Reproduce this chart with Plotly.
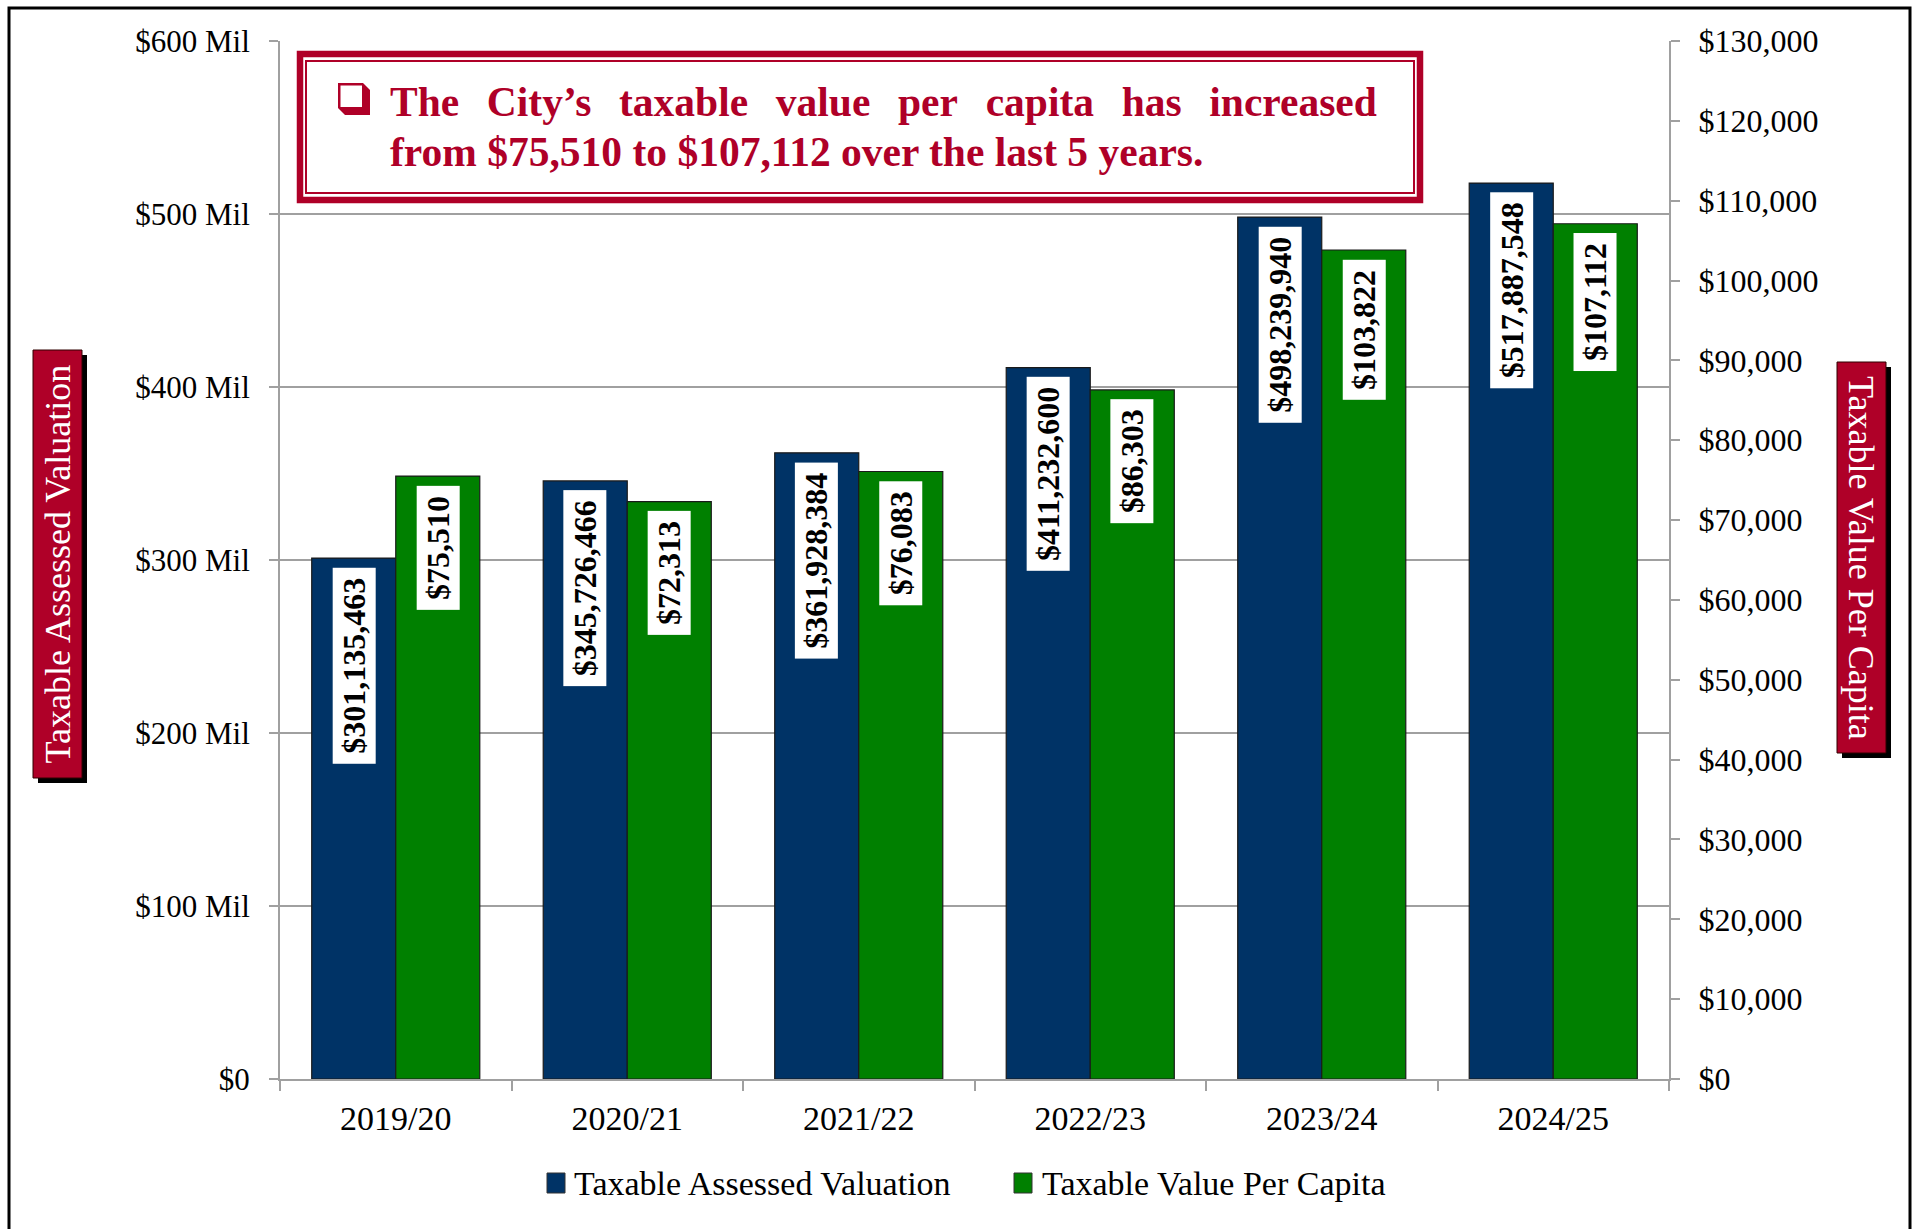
import plotly.graph_objects as go

# ---------------- data ----------------
years = ["2019/20", "2020/21", "2021/22", "2022/23", "2023/24", "2024/25"]
assessed_valuation = [301135463, 345726466, 361928384, 411232600, 498239940, 517887548]
value_per_capita = [75510, 72313, 76083, 86303, 103822, 107112]
series_names = ["Taxable Assessed Valuation", "Taxable Value Per Capita"]
left_tick_vals = [0, 100e6, 200e6, 300e6, 400e6, 500e6, 600e6]
left_tick_text = ["$0", "$100 Mil", "$200 Mil", "$300 Mil", "$400 Mil", "$500 Mil", "$600 Mil"]
headline = ["The City\u2019s taxable value per capita has increased",
            "from $75,510 to $107,112 over the last 5 years."]

# ---------------- styles ----------------
W, H = 1915, 1229
L, R, T, B = 280, 246, 41, 150
PW, PH = W - L - R, H - T - B
BLUE = "#003366"
GREEN = "#008000"
RED = "#AF0028"
GRID = "#A0A0A0"
SERIF = "Liberation Serif"
BAR_W = 0.363


def px(x):
    return (x - L) / PW


def py(y):
    return (H - B - y) / PH


fig = go.Figure()
fig.add_trace(go.Bar(x=years, y=assessed_valuation, name=series_names[0],
                     marker=dict(color=BLUE, line=dict(color="#1a1a1a", width=1.2)),
                     width=BAR_W, offset=-BAR_W, yaxis="y", showlegend=False))
fig.add_trace(go.Bar(x=years, y=value_per_capita, name=series_names[1],
                     marker=dict(color=GREEN, line=dict(color="#1a1a1a", width=1.2)),
                     width=BAR_W, offset=0, yaxis="y2", showlegend=False))

annotations = []
thin = "\u2009"
for i, v in enumerate(assessed_valuation):
    annotations.append(dict(x=i - BAR_W / 2, y=v, xref="x", yref="y",
                            text=thin + "${:,}".format(v) + thin, textangle=-90,
                            yanchor="top", xanchor="center", yshift=-9, showarrow=False,
                            bgcolor="white", borderpad=3,
                            font=dict(family=SERIF, size=32, color="black", weight="bold")))
for i, v in enumerate(value_per_capita):
    annotations.append(dict(x=i + BAR_W / 2, y=v, xref="x", yref="y2",
                            text=thin + "${:,}".format(v) + thin, textangle=-90,
                            yanchor="top", xanchor="center", yshift=-9, showarrow=False,
                            bgcolor="white", borderpad=3,
                            font=dict(family=SERIF, size=32, color="black", weight="bold")))

shapes = []
# outer frame
shapes.append(dict(type="rect", xref="paper", yref="paper", x0=px(9), x1=px(1910), y0=py(8), y1=py(1240),
                   line=dict(color="black", width=3), fillcolor="rgba(0,0,0,0)", layer="below"))

# headline box
shapes.append(dict(type="rect", xref="paper", yref="paper", x0=px(300), x1=px(1420), y0=py(54), y1=py(200),
                   line=dict(color=RED, width=6.5), fillcolor="white"))
shapes.append(dict(type="rect", xref="paper", yref="paper", x0=px(306), x1=px(1414), y0=py(61), y1=py(193),
                   line=dict(color=RED, width=2), fillcolor="rgba(0,0,0,0)"))
# checkbox glyph
pts = [(338, 83), (363, 83), (370, 90), (370, 115), (345, 115), (338, 108)]
path = "M " + " L ".join("{:.5f},{:.5f}".format(px(a), py(b)) for a, b in pts) + " Z"
shapes.append(dict(type="path", xref="paper", yref="paper", path=path, fillcolor=RED, line=dict(width=0)))
shapes.append(dict(type="rect", xref="paper", yref="paper", x0=px(340.5), x1=px(362), y0=py(85.5), y1=py(107),
                   fillcolor="white", line=dict(width=0)))

line1 = headline[0].replace(" ", "\u2002\u200a\u200a")
annotations.append(dict(xref="paper", yref="paper", x=px(388), y=py(102), xanchor="left", yanchor="middle",
                        text=line1, showarrow=False,
                        font=dict(family=SERIF, size=41.5, color=RED, weight="bold")))
annotations.append(dict(xref="paper", yref="paper", x=px(388), y=py(152), xanchor="left", yanchor="middle",
                        text=headline[1], showarrow=False,
                        font=dict(family=SERIF, size=41.5, color=RED, weight="bold")))

# axis title boxes
for (x0, x1, y0, y1, txt, ang) in [(33, 82, 350, 778, series_names[0], -90),
                                   (1837, 1886, 362, 753, series_names[1], 90)]:
    shapes.append(dict(type="rect", xref="paper", yref="paper", x0=px(x0 + 5), x1=px(x1 + 5),
                       y0=py(y0 + 5), y1=py(y1 + 5), fillcolor="black", line=dict(width=0)))
    shapes.append(dict(type="rect", xref="paper", yref="paper", x0=px(x0), x1=px(x1),
                       y0=py(y0), y1=py(y1), fillcolor=RED, line=dict(color="#300000", width=1)))
    annotations.append(dict(xref="paper", yref="paper", x=px((x0 + x1) / 2), y=py((y0 + y1) / 2),
                            xanchor="center", yanchor="middle", text=txt, textangle=ang, showarrow=False,
                            font=dict(family=SERIF, size=36, color="white")))

# manual legend
for (sx, tx, col, name) in [(547, 572, BLUE, series_names[0]), (1014, 1040, GREEN, series_names[1])]:
    shapes.append(dict(type="rect", xref="paper", yref="paper", x0=px(sx), x1=px(sx + 18),
                       y0=py(1173), y1=py(1193), fillcolor=col, line=dict(color="#333333", width=1)))
    annotations.append(dict(xref="paper", yref="paper", x=px(tx), y=py(1183), xanchor="left",
                            yanchor="middle", text=name, showarrow=False,
                            font=dict(family=SERIF, size=34, color="black")))

fig.update_layout(
    width=W, height=H, autosize=False,
    margin=dict(l=L, r=R, t=T, b=B),
    paper_bgcolor="white", plot_bgcolor="white",
    barmode="group",
    showlegend=False,
    shapes=shapes, annotations=annotations,
    xaxis=dict(type="category", categoryorder="array", categoryarray=years, range=[-0.5, 5.5],
               showline=True, linecolor=GRID, linewidth=2, ticks="outside", tickson="boundaries",
               ticklen=10, tickcolor=GRID, tickwidth=2, showgrid=False, zeroline=False,
               tickfont=dict(family=SERIF, size=34, color="black"), ticklabelstandoff=8),
    yaxis=dict(range=[0, 600e6], tickvals=left_tick_vals, ticktext=left_tick_text,
               showline=True, linecolor=GRID, linewidth=2, ticks="outside", ticklen=9,
               tickcolor=GRID, tickwidth=2, showgrid=True, gridcolor=GRID, gridwidth=1.5,
               zeroline=False, tickfont=dict(family=SERIF, size=31, color="black"),
               ticklabelstandoff=13),
    yaxis2=dict(range=[0, 130000], dtick=10000, tick0=0, overlaying="y", side="right",
                tickprefix="$", tickformat=",d",
                showline=True, linecolor=GRID, linewidth=2, ticks="outside", ticklen=9,
                tickcolor=GRID, tickwidth=2, showgrid=False, zeroline=False,
                tickfont=dict(family=SERIF, size=32, color="black"), ticklabelstandoff=12),
)

fig.write_html("out.html", post_script="document.body.style.margin='0';",
               config={"displayModeBar": False})
